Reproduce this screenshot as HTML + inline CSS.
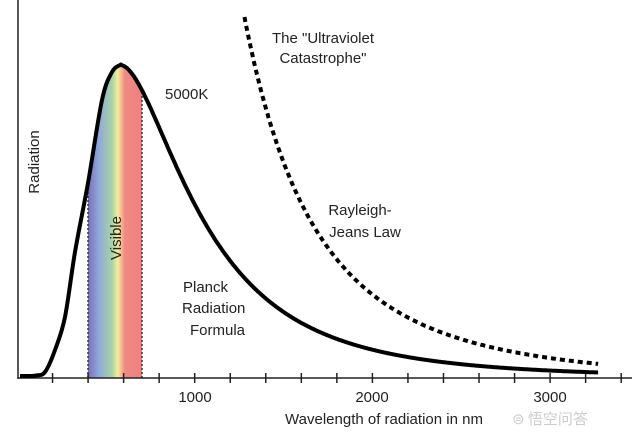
<!DOCTYPE html>
<html><head><meta charset="utf-8"><style>
html,body{margin:0;padding:0;background:#fff;}
svg{display:block;font-family:"Liberation Sans",Arial,sans-serif;}
</style></head><body>
<svg id="s" width="640" height="439" viewBox="0 0 640 439" xmlns="http://www.w3.org/2000/svg">
<defs>
<linearGradient id="g" x1="0" x2="1" y1="0" y2="0">
<stop offset="0" stop-color="#7a70b6"/>
<stop offset="0.2" stop-color="#8fa8dc"/>
<stop offset="0.45" stop-color="#a8d4a4"/>
<stop offset="0.55" stop-color="#f3eea0"/>
<stop offset="0.62" stop-color="#f6b98a"/>
<stop offset="0.68" stop-color="#f08a84"/>
<stop offset="1" stop-color="#ef8080"/>
</linearGradient>
<clipPath id="cp"><path id="cpp" d=""/></clipPath>
</defs>
<rect x="88" y="40" width="54" height="338" fill="url(#g)" clip-path="url(#cp)"/>
<line x1="88" y1="378" x2="88" y2="183" stroke="#333" stroke-width="1.5" stroke-dasharray="2,2"/>
<line x1="142" y1="378" x2="142" y2="91" stroke="#333" stroke-width="1.5" stroke-dasharray="2,2"/>
<line x1="18" y1="0" x2="18" y2="379" stroke="#222" stroke-width="1.5"/>
<line x1="18" y1="378" x2="632" y2="378" stroke="#222" stroke-width="1.5"/>
<g id="ticks" stroke="#222" stroke-width="1.5"></g>
<path id="planck" d="" fill="none" stroke="#000" stroke-width="4" stroke-linejoin="round"/>
<path id="rj" d="" fill="none" stroke="#000" stroke-width="4" stroke-dasharray="5,4"/>
<g font-size="15" fill="#222">
<text x="323" y="43" text-anchor="middle">The "Ultraviolet</text>
<text x="323" y="63" text-anchor="middle">Catastrophe"</text>
<text x="165" y="99">5000K</text>
<text x="360" y="215" text-anchor="middle">Rayleigh-</text>
<text x="365" y="237" text-anchor="middle">Jeans Law</text>
<text x="183" y="292">Planck</text>
<text x="182" y="313">Radiation</text>
<text x="190" y="335">Formula</text>
<text transform="translate(39,162) rotate(-90)" text-anchor="middle">Radiation</text>
<text transform="translate(121,238) rotate(-90)" text-anchor="middle">Visible</text>
<text x="195" y="402" text-anchor="middle">1000</text>
<text x="372" y="402" text-anchor="middle">2000</text>
<text x="550" y="402" text-anchor="middle">3000</text>
<text x="384" y="424" text-anchor="middle">Wavelength of radiation in nm</text>
</g>
<text x="512" y="424" font-size="15" fill="#ccc" font-family="'Noto Sans CJK SC',sans-serif">⊜ 悟空问答</text>
</svg>
<script>
var X=function(l){return 17+l*0.1777;};
var a=2877.6;
function B(l){return Math.pow(l,-5)/(Math.exp(a/l)-1);}
var bm=B(580),amp=313;
var Y=function(v){return 378-amp*v/bm;};
var pts=[[20,376],[28,376],[36,375.5],[45,372],[55,350],[65,317],[75,252],[88,183],[102,100],[112,72],[120,65]];
for(var l=585;l<=3270;l+=5){pts.push([X(l),Y(B(l))]);}
var p="M"+pts[0][0]+","+pts[0][1];
for(var i=0;i<pts.length-1;i++){
 var p0=pts[Math.max(0,i-1)],p1=pts[i],p2=pts[i+1],p3=pts[Math.min(pts.length-1,i+2)];
 var c1x=p1[0]+(p2[0]-p0[0])/6,c1y=p1[1]+(p2[1]-p0[1])/6,c2x=p2[0]-(p3[0]-p1[0])/6,c2y=p2[1]-(p3[1]-p1[1])/6;
 p+="C"+c1x.toFixed(1)+","+c1y.toFixed(1)+" "+c2x.toFixed(1)+","+c2y.toFixed(1)+" "+p2[0].toFixed(1)+","+p2[1].toFixed(1);
}
document.getElementById("planck").setAttribute("d",p);
document.getElementById("cpp").setAttribute("d",p+"L"+X(3270)+",378L20,378Z");
var r="";
for(var l=1280;l<=3270;l+=5){var h=365*Math.pow(1280/l,3.2)-4;r+=(r?"L":"M")+X(l).toFixed(1)+","+(378-h).toFixed(1);}
document.getElementById("rj").setAttribute("d",r);
var t="";
for(var l=200;l<=3400;l+=200){var x=X(l);t+='<line x1="'+x+'" x2="'+x+'" y1="373" y2="383"/>';}
document.getElementById("ticks").innerHTML=t;
</script>
</body></html>
